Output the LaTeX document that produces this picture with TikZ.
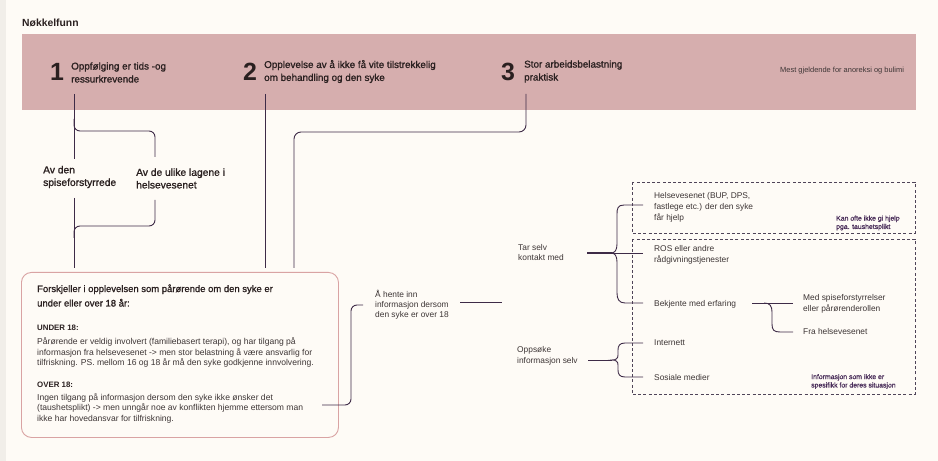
\documentclass[tikz,border=0pt]{standalone}
\usepackage{fontspec}
\setmainfont{Liberation Sans}
\newfontfamily\medfont[FakeBold=1.2]{Liberation Sans}
\definecolor{paper}{HTML}{FEFBF6}
\definecolor{strip}{HTML}{F1EEE9}
\definecolor{band}{HTML}{D6AEAE}
\definecolor{boxpink}{HTML}{D9A3A3}
\definecolor{ink}{HTML}{2A2020}
\definecolor{body}{HTML}{3D3535}
\definecolor{plum}{HTML}{3E2B47}
\definecolor{dashc}{HTML}{4F4458}
\definecolor{note}{HTML}{4A2E5A}
\begin{document}
\begin{tikzpicture}[x=1bp,y=-1bp,
  lbl/.style={anchor=west,inner sep=0pt,align=left,text=body,font=\fontsize{8.4}{11}\selectfont},
  para/.style={anchor=west,inner sep=0pt,align=left,text=body,font=\fontsize{8.6}{10.6}\selectfont},
  head/.style={anchor=west,inner sep=0pt,align=left,text=ink,font=\medfont\fontsize{9.9}{13}\selectfont},
  num/.style={inner sep=0pt,text=ink,font=\bfseries\fontsize{25}{25}\selectfont},
  branch/.style={anchor=west,inner sep=0pt,align=left,text=ink,font=\medfont\fontsize{10.3}{12.6}\selectfont},
  notetxt/.style={anchor=west,inner sep=0pt,align=left,text=note,font=\medfont\fontsize{6.9}{8.4}\selectfont},
  conn/.style={draw=plum,line width=0.9bp},
  dashbox/.style={draw=dashc,line width=0.8bp,dash pattern=on 3bp off 2.2bp}]

% canvas
\useasboundingbox (0,0) rectangle (938,461);
\fill[paper] (0,0) rectangle (938,461);
\fill[strip] (0,0) rectangle (6,461);

% title and key-findings band
\node[anchor=west,inner sep=0pt,text=ink,font=\bfseries\fontsize{10.4}{11}\selectfont] (title) at (22,23) {Nøkkelfunn};
\fill[band] (22,34) rectangle (916,110);

\node[num] (n1) at (57,71.5) {1};
\node[head] (k1) at (71,72.5) {Oppfølging er tids -og\\ressurkrevende};
\node[num] (n2) at (250,71.5) {2};
\node[head] (k2) at (264,71.5) {Opplevelse av å ikke få vite tilstrekkelig\\om behandling og den syke};
\node[num] (n3) at (508,71.5) {3};
\node[head] (k3) at (524,71.5) {Stor arbeidsbelastning\\praktisk};
\node[anchor=west,inner sep=0pt,text=body,font=\fontsize{7.5}{8}\selectfont] (scope) at (780,71) {Mest gjeldende for anoreksi og bulimi};

% sub-branches of finding 1
\node[branch] (avden) at (43,177) {Av den\\spiseforstyrrede};
\node[branch] (avde) at (136,178.5) {Av de ulike lagene i\\helsevesenet};

% summary box
\node[draw=boxpink,line width=0.9bp,rounded corners=10bp,minimum width=317bp,minimum height=165bp,anchor=north west,inner sep=0pt] (box) at (21,272) {};
\node[anchor=west,inner sep=0pt,align=left,text=ink,font=\medfont\fontsize{9.5}{14.5}\selectfont] (boxhead) at (37,295.5) {Forskjeller i opplevelsen som pårørende om den syke er\\under eller over 18 år:};
\node[anchor=west,inner sep=0pt,text=ink,font=\bfseries\fontsize{7.9}{9}\selectfont] (under) at (37,328) {UNDER 18:};
\node[para] (underp) at (37,352.5) {Pårørende er veldig involvert (familiebasert terapi), og har tilgang på\\informasjon fra helsevesenet -> men stor belastning å være ansvarlig for\\tilfriskning. PS. mellom 16 og 18 år må den syke godkjenne innvolvering.};
\node[anchor=west,inner sep=0pt,text=ink,font=\bfseries\fontsize{7.9}{9}\selectfont] (over) at (37,385) {OVER 18:};
\node[para] (overp) at (37,408) {Ingen tilgang på informasjon dersom den syke ikke ønsker det\\(taushetsplikt) -> men unngår noe av konflikten hjemme ettersom man\\ikke har hovedansvar for tilfriskning.};

% information-seeking tree
\node[lbl,font=\fontsize{8.4}{10.2}\selectfont] (hente) at (375,305) {Å hente inn\\informasjon dersom\\den syke er over 18};
\node[lbl] (tar) at (518,252.5) {Tar selv\\kontakt med};
\node[lbl,font=\fontsize{8.4}{10.5}\selectfont] (oppsoke) at (517,356) {Oppsøke\\informasjon selv};

\node[lbl] (helse) at (654,207) {Helsevesenet (BUP, DPS,\\fastlege etc.) der den syke\\får hjelp};
\node[lbl,font=\fontsize{8.4}{10.5}\selectfont] (ros) at (654,255) {ROS eller andre\\rådgivningstjenester};
\node[lbl] (bekj) at (654,304) {Bekjente med erfaring};
\node[lbl] (inet) at (654,343) {Internett};
\node[lbl] (sos) at (654,378) {Sosiale medier};
\node[lbl] (medsp) at (803,303.5) {Med spiseforstyrrelser\\eller pårørenderollen};
\node[lbl] (frah) at (803,332) {Fra helsevesenet};
\node[notetxt] (kan) at (836,223) {Kan ofte ikke gi hjelp\\pga. taushetsplikt};
\node[notetxt] (info) at (811,381.5) {Informasjon som ikke er\\spesifikk for deres situasjon};

\draw[dashbox] (632,182) rectangle (915,233);
\draw[dashbox] (632,239) rectangle (915,394);

% connector end points
\coordinate (a1) at (74,94);
\coordinate (a2) at (265,94);
\coordinate (a3) at (526,94);
\coordinate (g1) at (74,159);
\coordinate (g2) at (74,198);
\coordinate (b1) at (74,268);
\coordinate (b2) at (265,268);
\coordinate (b3) at (294,268);

% finding 1 down to the box, split around its two sub-branches
\draw[conn] (a1) -- (g1);
\draw[conn] (g2) -- (b1);
\draw[conn,rounded corners=6bp] (74,119) |- (155,131) -- (155,157);
\draw[conn,rounded corners=6bp] (155,200) |- (74,226) -- (74,238);
% finding 2 and 3 down to the box
\draw[conn] (a2) -- (b2);
\draw[conn,rounded corners=7bp] (a3) |- (294,132) -- (b3);

% box to the information tree
\draw[conn,rounded corners=6bp] (322,405) -| (351,305) -- (363,305);
\draw[conn] (460,302) -- (502,302);

% "Tar selv kontakt med" brace
\draw[plum,line width=1.8bp] (587,253) -- (612,253);
\draw[conn] (612,253) -- (643,253);
\draw[conn] (643,205) -- (624,205) .. controls (617.5,205) and (617,209) .. (617,214)
  -- (617,244) .. controls (617,250) and (615,253) .. (611,253)
  .. controls (615,253) and (617,256) .. (617,262) -- (617,293)
  .. controls (617,299) and (619,303) .. (625,303) -- (643,303);

% "Oppsøke informasjon selv" brace
\draw[conn] (588,360) -- (612,360);
\draw[conn] (643,343) -- (625,343) .. controls (619.5,343) and (618,346) .. (618,350)
  -- (618,355) .. controls (618,358.5) and (616,360) .. (612,360)
  .. controls (616,360) and (618,361.5) .. (618,365) -- (618,370)
  .. controls (618,374) and (619.5,377) .. (625,377) -- (643,377);

% acquaintances branch
\draw[conn] (752,303) -- (793,303);
\draw[conn] (764,303) .. controls (770,303) and (772,306) .. (772,312) -- (772,324)
  .. controls (772,330) and (774,332) .. (780,332) -- (793,332);
\end{tikzpicture}
\end{document}
